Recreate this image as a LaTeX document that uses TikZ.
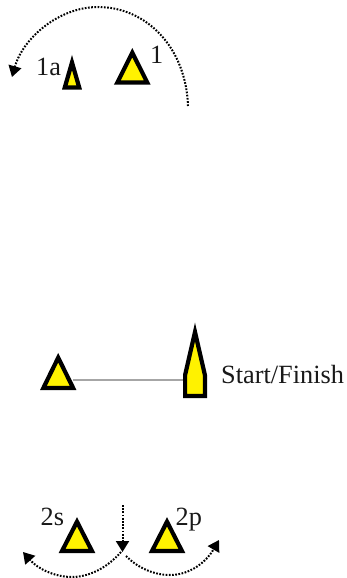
\documentclass[tikz,border=0pt]{standalone}
\usepackage{fontspec}
\setmainfont{Liberation Serif}
\usetikzlibrary{arrows.meta}
\tikzset{
  x=1pt,y=-1pt,
  buoy/.style={draw=black,fill=yellow,line width=4.2pt,miter limit=10},
  lab/.style={inner sep=0pt,font=\fontsize{26.3}{26}\selectfont,text=black!90},
  course/.style={line width=2pt,dash pattern=on 1.7pt off 1.5pt,-{Triangle[width=13pt,length=11pt]}},
  startline/.style={draw=black!35,line width=1.4pt}
}
\begin{document}
\begin{tikzpicture}
\useasboundingbox (0,0) rectangle (346,578);
% marks
\draw[buoy] (117.4,82.4) -- (147.2,82.4) -- (132.3,52.7) -- cycle;
\draw[buoy] (64.8,87.4) -- (79.2,87.4) -- (72,62.5) -- cycle;
\draw[buoy] (43.4,387.9) -- (73.1,387.9) -- (58.2,357.7) -- cycle;
\draw[buoy] (185.1,395.9) -- (204.9,395.9) -- (204.9,375) -- (195,332) -- (185.1,375) -- cycle;
\draw[buoy] (62.1,550.9) -- (91.9,550.9) -- (77,521.7) -- cycle;
\draw[buoy] (152.1,550.9) -- (181.9,550.9) -- (167,521.7) -- cycle;
% connector
\coordinate (pinL) at (73,380);
\coordinate (pinR) at (183,380);
\draw[startline] (pinL) -- (pinR);
% labels
\node[lab,anchor=base west] (n1) at (150,63.5) {1};
\node[lab,anchor=base west] (n1a) at (36,75) {1a};
\node[lab,anchor=base west] (nsf) at (221,383) {Start/Finish};
\node[lab,anchor=base west] (n2s) at (40.5,525) {2s};
\node[lab,anchor=base west] (n2p) at (175.5,525) {2p};
% course
\coordinate (a0) at (188,106);
\coordinate (a1) at (12,77);
\draw[course] (a0) .. controls (186,47) and (146,7) .. (98,7)
  .. controls (59,7) and (23,38) .. (a1);
\coordinate (b0) at (122.5,505);
\coordinate (b1) at (122.5,552);
\draw[course] (b0) -- (b1);
\coordinate (c0) at (121,552);
\coordinate (c1) at (23,552);
\draw[course] (c0) .. controls (106,569) and (88,577) .. (72,577) .. controls (55,577) and (38,569) .. (c1);
\coordinate (d0) at (126,556);
\coordinate (d1) at (219,540);
\draw[course] (d0) .. controls (138,568) and (154,575) .. (170,575) .. controls (188,575) and (205,564) .. (d1);
\end{tikzpicture}
\end{document}
